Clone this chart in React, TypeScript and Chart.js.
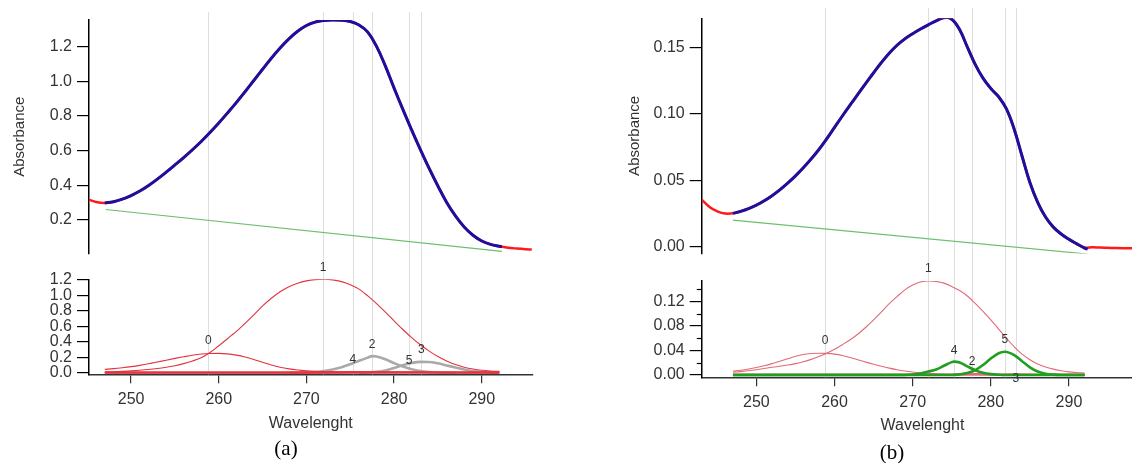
import React, { useEffect, useRef } from 'react';
import { Chart, registerables } from 'chart.js';
Chart.register(...registerables);

const FONT = "'Liberation Sans', Arial, Helvetica, sans-serif";

// ---------- shared ----------
const xTicks = [250, 260, 270, 280, 290];
const peakNames = ['0', '1', '2', '3', '4', '5'];
const wl247to292 = [247, 248, 249, 250, 251, 252, 253, 254, 255, 256, 257, 258, 259, 260, 261, 262, 263, 264, 265, 266, 267, 268, 269, 270, 271, 272, 273, 274, 275, 276, 277, 278, 279, 280, 281, 282, 283, 284, 285, 286, 287, 288, 289, 290, 291, 292];

// ---------- panel (a) ----------
const yTicksAUp = [0.2, 0.4, 0.6, 0.8, 1.0, 1.2];
const yTicksALow = [0, 0.2, 0.4, 0.6, 0.8, 1.0, 1.2];
const centersA = [258.8, 271.9, 277.5, 283.1, 275.3, 281.7];
const labelYA = [0.41, 1.364, 0.368, 0.303, 0.164, 0.151];

const dataAX = [245.2, 246, 247, 248, 249, 250, 251, 252, 253, 254, 255, 256, 257, 258, 259, 260, 261, 262, 263, 264, 265, 266, 267, 268, 269, 270, 271, 272, 273, 274, 275, 276, 277, 278, 279, 280, 281, 282, 283, 284, 285, 286, 287, 288, 289, 290, 291, 292, 293, 294, 295, 295.7];
const dataAY = [0.316, 0.303, 0.297, 0.304, 0.319, 0.340, 0.366, 0.398, 0.435, 0.475, 0.517, 0.560, 0.605, 0.653, 0.705, 0.760, 0.818, 0.878, 0.941, 1.006, 1.071, 1.135, 1.194, 1.247, 1.291, 1.324, 1.344, 1.353, 1.356, 1.355, 1.347, 1.327, 1.286, 1.203, 1.090, 0.962, 0.839, 0.720, 0.606, 0.497, 0.395, 0.300, 0.222, 0.158, 0.110, 0.077, 0.057, 0.046, 0.038, 0.033, 0.029, 0.027];
const fitAX = [...wl247to292, 292.3];
const fitAY = [0.297, 0.304, 0.319, 0.340, 0.366, 0.398, 0.435, 0.475, 0.517, 0.560, 0.605, 0.653, 0.705, 0.760, 0.818, 0.878, 0.941, 1.006, 1.071, 1.135, 1.194, 1.247, 1.291, 1.324, 1.344, 1.353, 1.356, 1.355, 1.347, 1.327, 1.286, 1.203, 1.090, 0.962, 0.839, 0.720, 0.606, 0.497, 0.395, 0.300, 0.222, 0.158, 0.110, 0.077, 0.057, 0.046, 0.044];
const baseAX = [247.1, 292.3];
const baseAY = [0.259, 0.017];

const comp0AX = [247, 248, 249, 250, 251, 252, 253, 254, 255, 256, 257, 258, 259, 260, 261, 262, 263, 264, 265, 266, 267, 268, 269, 270, 271, 272, 273, 274, 280, 292];
const comp0AY = [0.044, 0.053, 0.065, 0.079, 0.096, 0.116, 0.139, 0.163, 0.186, 0.207, 0.227, 0.242, 0.250, 0.251, 0.244, 0.228, 0.204, 0.172, 0.135, 0.100, 0.071, 0.050, 0.035, 0.025, 0.018, 0.013, 0.010, 0.008, 0.006, 0.005];
const comp1AY = [0.010, 0.013, 0.018, 0.024, 0.032, 0.042, 0.055, 0.071, 0.090, 0.118, 0.152, 0.195, 0.262, 0.350, 0.440, 0.535, 0.640, 0.750, 0.865, 0.965, 1.049, 1.115, 1.160, 1.190, 1.206, 1.210, 1.203, 1.180, 1.140, 1.083, 0.995, 0.895, 0.785, 0.672, 0.560, 0.455, 0.362, 0.280, 0.210, 0.152, 0.106, 0.072, 0.048, 0.032, 0.023, 0.018];
const comp2AX = [268, 270, 271, 272, 273, 274, 275, 276, 277, 277.5, 278, 279, 280, 281, 282, 283, 284, 285, 287];
const comp2AY = [0, 0.004, 0.010, 0.022, 0.042, 0.072, 0.110, 0.155, 0.196, 0.215, 0.210, 0.175, 0.125, 0.080, 0.045, 0.022, 0.010, 0.004, 0];
const comp3AX = [276, 277, 278, 279, 280, 281, 282, 283, 284, 285, 286, 287, 288, 289, 290, 291, 292];
const comp3AY = [0, 0.004, 0.012, 0.030, 0.062, 0.098, 0.126, 0.141, 0.140, 0.122, 0.095, 0.068, 0.042, 0.022, 0.010, 0.004, 0.002];
const comp4AX = [247, 268, 275.3, 282, 292];
const comp4AY = [0.003, 0.003, 0.007, 0.003, 0.003];
const comp5AX = [247, 274, 281.7, 288, 292];
const comp5AY = [0.002, 0.002, 0.005, 0.002, 0.002];

// ---------- panel (b) ----------
const yTicksBUp = [0, 0.05, 0.10, 0.15];
const yTicksBLow = [0, 0.04, 0.08, 0.12];
const minorTicksBLow = [0.02, 0.06, 0.10, 0.14];
const centersB = [258.8, 272.0, 277.6, 283.2, 275.3, 281.8];
const labelYB = [0.0555, 0.173, 0.0218, -0.0054, 0.0392, 0.0571];

const dataBX = [243, 244, 245, 246, 247, 248, 249, 250, 251, 252, 253, 254, 255, 256, 257, 258, 259, 260, 261, 262, 263, 264, 265, 266, 267, 268, 269, 270, 271, 272, 273, 274, 275, 276, 277, 278, 279, 280, 281, 282, 283, 284, 285, 286, 287, 288, 289, 290, 291, 292, 293, 294, 295, 296, 297, 298, 299];
const dataBY = [0.0352, 0.0298, 0.0265, 0.0248, 0.0250, 0.0265, 0.0285, 0.0311, 0.0344, 0.0383, 0.0427, 0.0477, 0.0532, 0.0593, 0.0659, 0.0731, 0.0811, 0.0897, 0.0983, 0.1066, 0.1148, 0.1229, 0.1309, 0.1386, 0.1456, 0.1516, 0.1564, 0.1603, 0.1638, 0.1670, 0.1700, 0.1724, 0.1712, 0.1634, 0.1502, 0.1372, 0.1268, 0.1190, 0.1128, 0.1036, 0.0882, 0.0680, 0.0482, 0.0332, 0.0222, 0.0146, 0.0094, 0.0054, 0.0020, -0.0008, -0.0006, -0.0008, -0.0010, -0.0012, -0.0013, -0.0013, -0.0013];
const fitBX = [...wl247to292, 292.4];
const fitBY = [0.0250, 0.0265, 0.0285, 0.0311, 0.0344, 0.0383, 0.0427, 0.0477, 0.0532, 0.0593, 0.0659, 0.0731, 0.0811, 0.0897, 0.0983, 0.1066, 0.1148, 0.1229, 0.1309, 0.1386, 0.1456, 0.1516, 0.1564, 0.1603, 0.1638, 0.1670, 0.1700, 0.1724, 0.1712, 0.1634, 0.1502, 0.1372, 0.1268, 0.1190, 0.1128, 0.1036, 0.0882, 0.0680, 0.0482, 0.0332, 0.0222, 0.0146, 0.0094, 0.0054, 0.0020, -0.0012, -0.0020];
const baseBX = [247.0, 292.4];
const baseBY = [0.0199, -0.0057];

const comp0BX = [247, 248, 249, 250, 251, 252, 253, 254, 255, 256, 257, 258, 259, 260, 261, 262, 263, 264, 265, 266, 267, 268, 269, 270, 271, 272, 274, 278, 292];
const comp0BY = [0.0062, 0.0078, 0.0098, 0.0122, 0.0150, 0.0185, 0.0225, 0.0265, 0.0305, 0.0335, 0.0350, 0.0355, 0.0352, 0.0340, 0.0318, 0.0285, 0.0248, 0.0210, 0.0175, 0.0142, 0.0112, 0.0086, 0.0065, 0.0048, 0.0035, 0.0026, 0.0015, 0.0008, 0.0005];
const comp1BY = [0.0044, 0.0055, 0.0068, 0.0085, 0.0105, 0.0126, 0.0143, 0.0162, 0.0185, 0.0215, 0.0255, 0.0300, 0.0355, 0.0420, 0.0495, 0.0575, 0.0670, 0.0780, 0.0900, 0.1030, 0.1165, 0.1280, 0.1390, 0.1470, 0.1520, 0.1535, 0.1528, 0.1500, 0.1445, 0.1380, 0.1290, 0.1170, 0.1040, 0.0900, 0.0750, 0.0600, 0.0460, 0.0340, 0.0250, 0.0180, 0.0130, 0.0095, 0.0070, 0.0050, 0.0040, 0.0030];
const comp2BX = [247, 274, 277.6, 281, 292];
const comp2BY = [0.0003, 0.0005, 0.0022, 0.0005, 0.0003];
const comp3BX = [247, 279, 283.2, 287, 292];
const comp3BY = [0.0002, 0.0003, 0.0010, 0.0003, 0.0002];
const comp4BX = [247, 269, 270, 271, 272, 273, 274, 275, 275.3, 276, 277, 278, 279, 280, 281, 282, 292];
const comp4BY = [0, 0, 0.0008, 0.0025, 0.0055, 0.0090, 0.0150, 0.0210, 0.0218, 0.0205, 0.0140, 0.0078, 0.0036, 0.0014, 0.0004, 0, 0];
const comp5BX = [247, 275, 276, 277, 278, 279, 280, 281, 281.8, 283, 284, 285, 286, 287, 288, 289, 292];
const comp5BY = [0, 0, 0.0010, 0.0031, 0.0080, 0.0163, 0.0268, 0.0355, 0.0380, 0.0325, 0.0225, 0.0125, 0.0056, 0.0020, 0.0006, 0, 0];

// ---------- colours ----------
const RED_DATA = '#ff1a1a';
const BLUE_FIT = '#1e0f9e';
const GREEN_BASE = '#6cbf6c';
const VLINE = '#dedede';
const RED_A = '#e2343f';
const RED_B = '#e36a78';
const GRAY = '#a9a9a9';
const GREEN = '#1f9e1f';
const TEXT = '#333333';

const pts = (xs: number[], ys: number[]) => xs.map((x, i) => ({ x, y: ys[i] }));
const ds = (xs: number[], ys: number[], color: string, width: number, smooth = false) => ({
  data: pts(xs, ys),
  borderColor: color,
  borderWidth: width,
  pointRadius: 0,
  fill: false,
  ...(smooth ? { tension: 0.4 } : { cubicInterpolationMode: 'monotone' as const }),
});

const vlinePlugin = {
  id: 'vlines',
  beforeDatasetsDraw(chart: any, _a: any, opts: any) {
    if (!opts || !opts.xs) return;
    const { ctx } = chart;
    const sx = chart.scales.x;
    const y1 = opts.bottom === 'area' ? chart.chartArea.bottom : opts.bottom;
    ctx.save();
    ctx.strokeStyle = VLINE;
    ctx.lineWidth = 1;
    for (const v of opts.xs) {
      const px = Math.round(sx.getPixelForValue(v)) + 0.5;
      ctx.beginPath();
      ctx.moveTo(px, opts.top);
      ctx.lineTo(px, y1);
      ctx.stroke();
    }
    ctx.restore();
  },
};

const labelPlugin = {
  id: 'peakLabels',
  afterDraw(chart: any, _a: any, opts: any) {
    if (!opts || !opts.texts) return;
    const { ctx } = chart;
    ctx.save();
    ctx.font = `12px ${FONT}`;
    ctx.fillStyle = TEXT;
    ctx.textAlign = 'center';
    ctx.textBaseline = 'middle';
    opts.texts.forEach((t: string, i: number) => {
      ctx.fillText(t, chart.scales.x.getPixelForValue(opts.xs[i]), chart.scales.y.getPixelForValue(opts.ys[i]));
    });
    ctx.restore();
  },
};

const minorTickPlugin = {
  id: 'minorTicks',
  afterDraw(chart: any, _a: any, opts: any) {
    if (!opts || !opts.values) return;
    const { ctx } = chart;
    const left = chart.chartArea.left;
    ctx.save();
    ctx.strokeStyle = '#000';
    ctx.lineWidth = 1.2;
    for (const v of opts.values) {
      const py = Math.round(chart.scales.y.getPixelForValue(v)) + 0.5;
      ctx.beginPath();
      ctx.moveTo(left - 5, py);
      ctx.lineTo(left, py);
      ctx.stroke();
    }
    ctx.restore();
  },
};

type PanelOpts = {
  xmin: number; xmax: number; ymin: number; ymax: number;
  yTicks: number[]; dec: number; yWidth: number;
  padding: { left: number; top: number; right: number; bottom: number };
  datasets: any[]; vxs: number[]; vtop: number; vbottom: number | 'area';
  yTitle?: string; xTitle?: string; xHeight?: number;
  labels?: { texts: string[]; xs: number[]; ys: number[] };
  minor?: number[];
};

function makeConfig(o: PanelOpts): any {
  const showX = !!o.xTitle;
  return {
    type: 'line',
    data: { datasets: o.datasets },
    plugins: [vlinePlugin, labelPlugin, minorTickPlugin],
    options: {
      responsive: false,
      animation: false,
      events: [],
      layout: { padding: o.padding },
      plugins: {
        legend: { display: false },
        tooltip: { enabled: false },
        vlines: { xs: o.vxs, top: o.vtop, bottom: o.vbottom },
        peakLabels: o.labels ? o.labels : {},
        minorTicks: o.minor ? { values: o.minor } : {},
      },
      scales: {
        x: showX
          ? {
              type: 'linear', min: o.xmin, max: o.xmax,
              afterBuildTicks: (s: any) => { s.ticks = xTicks.map((v) => ({ value: v })); },
              afterFit: (s: any) => { s.height = o.xHeight; },
              ticks: { color: TEXT, font: { family: FONT, size: 16 }, padding: 7, maxRotation: 0, autoSkip: false, callback: (v: any) => String(v) },
              grid: { drawOnChartArea: false, drawTicks: true, tickLength: 9, color: '#333', lineWidth: 1.2 },
              border: { display: true, color: '#333', width: 1.5 },
              title: { display: true, text: o.xTitle, color: TEXT, font: { family: FONT, size: 16 }, padding: 0 },
            }
          : { type: 'linear', display: false, min: o.xmin, max: o.xmax },
        y: {
          type: 'linear', min: o.ymin, max: o.ymax,
          afterBuildTicks: (s: any) => { s.ticks = o.yTicks.map((v) => ({ value: v })); },
          afterFit: (s: any) => { s.width = o.yWidth; },
          ticks: { color: TEXT, font: { family: FONT, size: 16 }, padding: 5, autoSkip: false, callback: (v: any) => Number(v).toFixed(o.dec) },
          grid: { drawOnChartArea: false, drawTicks: true, tickLength: 12, color: '#000', lineWidth: 1.2 },
          border: { display: true, color: '#000', width: 1.5 },
          title: { display: !!o.yTitle, text: o.yTitle || '', color: TEXT, font: { family: FONT, size: 15 }, padding: 0 },
        },
      },
    },
  };
}

function ChartBox({ left, top, width, height, opts }: { left: number; top: number; width: number; height: number; opts: PanelOpts }) {
  const ref = useRef<HTMLCanvasElement>(null);
  useEffect(() => {
    const chart = new Chart(ref.current as HTMLCanvasElement, makeConfig(opts));
    return () => chart.destroy();
  }, []);
  return (
    <canvas
      ref={ref}
      width={width}
      height={height}
      style={{ position: 'absolute', left, top, width, height }}
    />
  );
}

const A_X = { xmin: 245.2, xmax: 295.8 };
const B_X = { xmin: 243.0, xmax: 299.5 };

const upperA: PanelOpts = {
  ...A_X, ymin: 0.005, ymax: 1.356, yTicks: yTicksAUp, dec: 1, yWidth: 78,
  padding: { left: 11, top: 20, right: 27.4, bottom: 12 },
  datasets: [ds(fitAX, fitAY, BLUE_FIT, 3, true), ds(dataAX, dataAY, RED_DATA, 2.5, true), ds(baseAX, baseAY, GREEN_BASE, 1.2)],
  vxs: centersA, vtop: 12, vbottom: 260, yTitle: 'Absorbance',
};
const lowerA: PanelOpts = {
  ...A_X, ymin: -0.02, ymax: 1.21, yTicks: yTicksALow, dec: 1, yWidth: 78,
  padding: { left: 11, top: 29.3, right: 27.4, bottom: 30.1 },
  datasets: [
    ds(comp4AX, comp4AY, RED_A, 2.2), ds(comp5AX, comp5AY, RED_A, 2.2),
    ds(comp0AX, comp0AY, RED_A, 1.1), ds(wl247to292, comp1AY, RED_A, 1.1),
    ds(comp2AX, comp2AY, GRAY, 2.6), ds(comp3AX, comp3AY, GRAY, 2.6),
  ],
  vxs: centersA, vtop: 10, vbottom: 'area', xTitle: 'Wavelenght', xHeight: 58.6,
  labels: { texts: peakNames, xs: centersA, ys: labelYA },
};
const upperB: PanelOpts = {
  ...B_X, ymin: -0.0052, ymax: 0.1719, yTicks: yTicksBUp, dec: 2, yWidth: 75.9,
  padding: { left: 65.8, top: 18.3, right: 16.8, bottom: 12 },
  datasets: [ds(fitBX, fitBY, BLUE_FIT, 3, true), ds(dataBX, dataBY, RED_DATA, 2.5, true), ds(baseBX, baseBY, GREEN_BASE, 1.2)],
  vxs: centersB, vtop: 8, vbottom: 260, yTitle: 'Absorbance',
};
const lowerB: PanelOpts = {
  ...B_X, ymin: -0.0038, ymax: 0.1535, yTicks: yTicksBLow, dec: 2, yWidth: 75.9,
  padding: { left: 65.8, top: 31, right: 16.8, bottom: 27.7 },
  datasets: [
    ds(comp4BX, comp4BY, GREEN, 2.6), ds(comp5BX, comp5BY, GREEN, 2.6),
    ds(comp2BX, comp2BY, RED_B, 2), ds(comp3BX, comp3BY, RED_B, 2),
    ds(comp0BX, comp0BY, RED_B, 1.1), ds(wl247to292, comp1BY, RED_B, 1.1),
  ],
  vxs: centersB, vtop: 10, vbottom: 'area', xTitle: 'Wavelenght', xHeight: 58,
  labels: { texts: peakNames, xs: centersB, ys: labelYB },
  minor: minorTicksBLow,
};

const capStyle = (cx: number, cy: number): React.CSSProperties => ({
  position: 'absolute', left: cx - 30, top: cy - 12, width: 60, height: 24, lineHeight: '24px',
  textAlign: 'center', fontFamily: "'Liberation Serif', 'Times New Roman', serif", fontSize: 21, color: '#000',
});

export default function App() {
  return (
    <div style={{ position: 'absolute', left: 0, top: 0, width: 1132, height: 463, overflow: 'hidden', background: '#fff' }}>
      <ChartBox left={0} top={0} width={560} height={268} opts={upperA} />
      <ChartBox left={560} top={0} width={600} height={268} opts={upperB} />
      <ChartBox left={0} top={250} width={560} height={213} opts={lowerA} />
      <ChartBox left={560} top={250} width={600} height={213} opts={lowerB} />
      <div style={capStyle(286, 448)}>(a)</div>
      <div style={capStyle(892, 452)}>(b)</div>
    </div>
  );
}
